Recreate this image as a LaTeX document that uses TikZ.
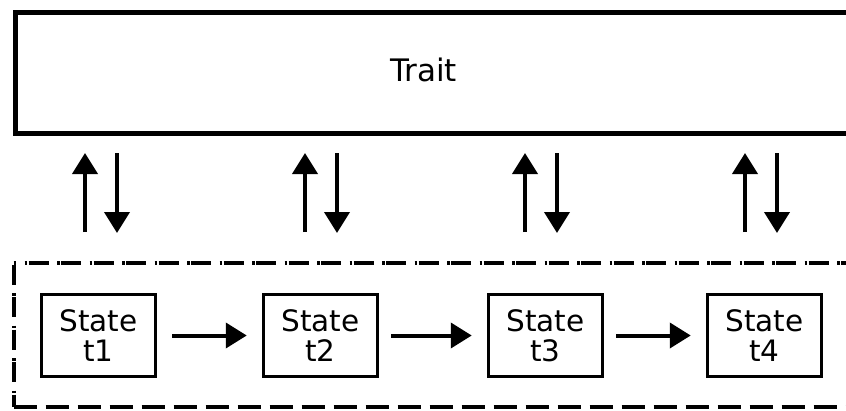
\documentclass[tikz,border=0pt]{standalone}
\usepackage{fontspec}
\setmainfont{DejaVu Sans}
\usetikzlibrary{arrows.meta}
\tikzset{
  statebox/.style={draw, line width=3.5pt, minimum width=114pt, minimum height=82pt, inner sep=0pt, align=center, font=\fontsize{29.5}{30}\selectfont},
  flow/.style={line width=4pt, -{Triangle[width=25pt,length=21pt]}},
  traitframe/.style={draw, line width=5.5pt, minimum width=900pt, minimum height=121pt, anchor=north west, inner sep=0pt},
  grouplinestyle/.style={line width=4pt, dash pattern=on 2.5pt off 1.5pt on 20pt off 8.5pt},
  groupbottom/.style={line width=4pt, dash pattern=on 23pt off 9pt}
}
\begin{document}
\begin{tikzpicture}[x=1pt,y=-1pt]
\useasboundingbox (0,0) rectangle (846,410);
% Trait box
\node[traitframe] (traitbox) at (12.5,9.5) {};
\node[font=\fontsize{31}{32}\selectfont] (trait) at (423.5,70) {Trait};
% dashed group
\coordinate (gtl) at (13.5,263);
\coordinate (gtr) at (880,263);
\coordinate (gbl) at (13.5,407);
\coordinate (gbr) at (880,407);
\draw[grouplinestyle, dash phase=21.5pt] (gtl) -- (gtr);
\draw[grouplinestyle, dash phase=2.5pt] (gtl) -- (gbl);
\draw[groupbottom] (gbl) -- (gbr);
% states
\node[statebox] (s1) at (98.5,335.5) {State\\t1};
\node[statebox] (s2) at (320.5,335.5) {State\\t2};
\node[statebox] (s3) at (545.5,335.5) {State\\t3};
\node[statebox] (s4) at (764.5,335.5) {State\\t4};
\draw[flow, shorten <=15pt, shorten >=15pt] (s1) -- (s2);
\draw[flow, shorten <=12pt, shorten >=15pt] (s2) -- (s3);
\draw[flow, shorten <=12pt, shorten >=15pt] (s3) -- (s4);
% vertical arrows
\foreach \i/\u/\d in {1/85/117, 2/305/337, 3/525/557, 4/745/777}{
  \coordinate (ua\i) at (\u,232);
  \coordinate (ub\i) at (\u,153);
  \coordinate (da\i) at (\d,153);
  \coordinate (db\i) at (\d,233);
  \draw[flow] (ua\i) -- (ub\i);
  \draw[flow] (da\i) -- (db\i);
}
\end{tikzpicture}
\end{document}
